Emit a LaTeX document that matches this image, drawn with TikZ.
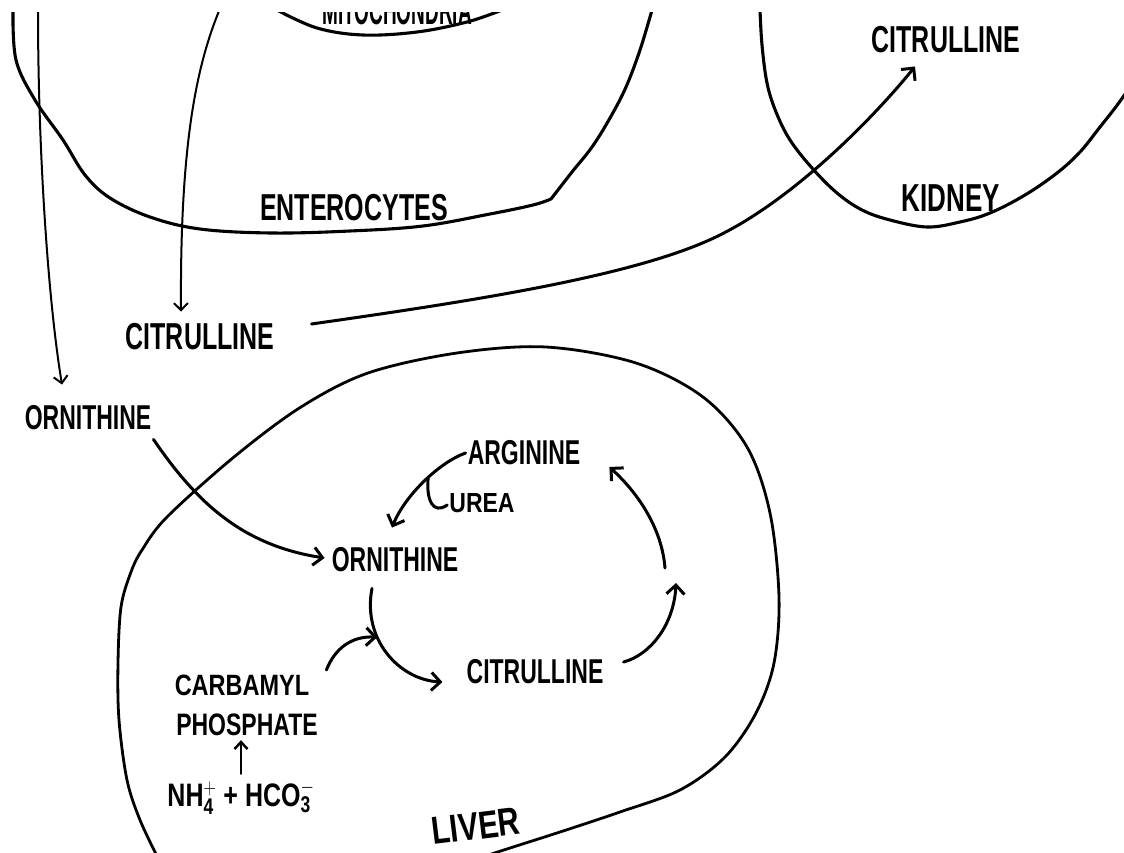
\documentclass[tikz,border=0pt]{standalone}
\usepackage{fontspec}
\setmainfont{Liberation Sans}
\usetikzlibrary{arrows.meta,calc}
% vertically stretched capitals, in the manner of hand lettering
\newcommand\stretchtxt[2][1.5]{\scalebox{1}[#1]{#2}}
\begin{document}
\begin{tikzpicture}[x=1pt,y=-1pt,
  outline/.style={line width=3.1pt, line cap=round, line join=round},
  flow/.style={line width=3pt, line cap=round, line join=round,
    -{Straight Barb[length=9pt,width=18pt]}},
  smallflow/.style={line width=2.5pt, line cap=round,
    -{Straight Barb[length=7pt,width=13pt]}},
  thinflow/.style={line width=2pt, line cap=round,
    -{Straight Barb[length=7pt,width=14pt]}},
  lbl/.style={inner sep=0pt, font=\bfseries\fontsize{23}{23}\selectfont},
  biglbl/.style={inner sep=0pt, font=\bfseries\fontsize{25}{25}\selectfont},
]
\useasboundingbox (0,0) rectangle (1124,853);
\fill[white] (0,0) rectangle (1124,853);

\begin{scope}
\clip (0,13) rectangle (1124,853);

% mitochondrion (lower edge only)
\draw[outline] plot[smooth, tension=0.6] coordinates
  {(277,10) (317,28) (363,35) (417,32) (467,22) (502,10)};
\node[inner sep=0pt, anchor=base, font=\bfseries\fontsize{19}{19}\selectfont] (mito) at (397,25)
  {\stretchtxt[2.1]{MITOCHONDRIA}};

% enterocyte outline
\draw[outline] plot[smooth, tension=0.6] coordinates
  {(13,10) (16,60) (35,100) (63,140) (85,175) (110,198) (150,217) (200,229)
   (271,233) (350,231) (423,226) (490,214) (533,205) (551,199)}
  plot[smooth, tension=0.6] coordinates
  {(551,199) (572,172) (592,147) (610,118) (626,87) (640,50) (652,10)};

% kidney outline
\draw[outline] plot[smooth, tension=0.6] coordinates
  {(760,10) (762,45) (767,83) (776,112) (790,140) (812,168) (837,193) (862,210)
   (890,220) (927,227) (960,222) (990,213) (1025,195) (1057,173) (1080,152)
   (1100,127) (1115,108) (1128,90)};

% liver outline
\draw[outline, line width=2.8pt] plot[smooth, tension=0.55] coordinates
  {(158,858) (140,820) (127,780) (119,720) (118,663) (121,607) (131,572)
   (142,550) (167,517) (234,457) (301,407) (368,373) (457,353) (546,347)
   (636,363) (703,397) (747,447) (770,513) (779,597) (774,663) (756,713)
   (725,757) (680,790) (620,812) (560,832) (510,848) (470,861)};

% free ends of the two lines leaving the enterocytes
\coordinate (ornsrc) at (38,11);
\coordinate (citsrc) at (219,11);

% labels
\node[biglbl] (kcit) at (946,40) {\stretchtxt{CITRULLINE}};
\node[inner sep=0pt, font=\bfseries\fontsize{26}{26}\selectfont] (kidney) at (951,198) {\stretchtxt{KIDNEY}};
\node[biglbl] (entero) at (354,208) {\stretchtxt{ENTEROCYTES}};
\node[biglbl] (cit) at (200,337) {\stretchtxt{CITRULLINE}};
\node[lbl] (orn) at (88,418) {\stretchtxt{ORNITHINE}};
\node[lbl] (arg) at (524,453) {\stretchtxt{ARGININE}};
\node[lbl] (urea) at (482,503) {\stretchtxt[1.2]{UREA}};
\node[lbl] (iorn) at (395,560) {\stretchtxt{ORNITHINE}};
\node[lbl] (icit) at (535,672) {\stretchtxt{CITRULLINE}};
\node[inner sep=0pt, font=\bfseries\fontsize{23.5}{23.5}\selectfont] (carb) at (242,685) {\stretchtxt[1.25]{CARBAMYL}};
\node[lbl] (phos) at (247,725) {\stretchtxt[1.35]{PHOSPHATE}};
\node[biglbl] (nh) at (241,797)
  {\stretchtxt[1.3]{NH$_{\mathbf{4}}^{\mathbf{+}}$ + HCO$_{\mathbf{3}}^{\mathbf{-}}$}};
\node[inner sep=0pt, font=\bfseries\fontsize{30}{30}\selectfont, rotate=7] (liver) at (476,826)
  {\stretchtxt[1.3]{LIVER}};

% transport between organs
\draw[thinflow] (ornsrc) .. controls (38,150) and (48,300) .. ([shift={(-26,-21)}]orn.north);
\draw[thinflow] (citsrc) .. controls (195,70) and (180,150) .. ([shift={(-19,-12)}]cit.north);
\draw[flow] ([shift={(37,-13)}]cit.east) .. controls (480,300) and (640,275) .. (720,235)
  .. controls (800,195) and (880,110) .. ([shift={(-31,13)}]kcit.south);
\draw[flow] ([shift={(2,9)}]orn.south east) .. controls (195,500) and (240,545)
  .. ([shift={(-7,-2)}]iorn.west);

% urea cycle in the liver
\coordinate (uptip) at (676,583);
\coordinate (upstart) at (665,568);
\draw[flow] ([shift={(-2,0)}]arg.west) .. controls (440,462) and (405,495)
  .. ([shift={(-3,-20)}]iorn.north) coordinate[pos=0.45] (ureabranch);
\draw[line width=3pt, line cap=round] (ureabranch) .. controls (426,500) and (433,515)
  .. ([shift={(-2,2)}]urea.west);
\draw[flow] ([shift={(-23,16)}]iorn.south) .. controls (362,640) and (400,680)
  .. ([shift={(-24,10)}]icit.west) coordinate[pos=0.35] (junction);
\draw[flow] ([shift={(17,-15)}]carb.east) .. controls (335,648) and (352,636) .. (junction);
\draw[flow] ([shift={(20,-10)}]icit.east) .. controls (650,655) and (674,625) .. (uptip);
\draw[flow] (upstart) .. controls (662,530) and (640,495) .. ([shift={(29,14)}]arg.east);
\draw[smallflow] ([shift={(0,-6)}]nh.north) -- ([shift={(-6,4)}]phos.south);
\end{scope}
\end{tikzpicture}
\end{document}
